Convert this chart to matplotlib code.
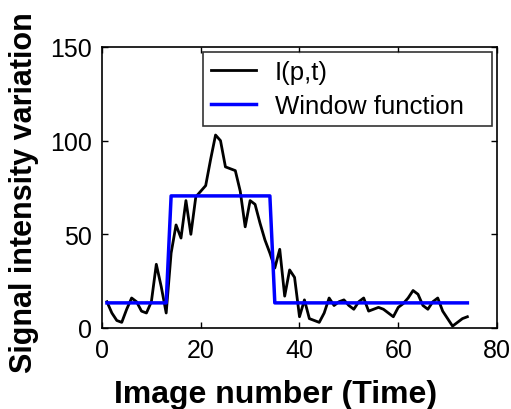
import numpy as np
import matplotlib
matplotlib.use("Agg")
import matplotlib.pyplot as plt

plt.rcParams['font.family'] = ['Liberation Sans', 'DejaVu Sans']

# image index (time)
t = np.arange(1, 75)

# measured signal I(p,t)
signal = [14, 8, 4, 3, 10, 16, 14, 9, 8, 14,
          34, 22, 8, 40, 55, 48, 68, 50, 70, 73,
          76, 90, 103, 100, 86, 85, 84, 73, 54, 68,
          66, 56, 47, 40, 32, 42, 17, 31, 27, 6,
          15, 5, 4, 3, 8, 16, 12, 14, 15, 12,
          10, 14, 16, 9, 10, 11, 10, 8, 6, 11,
          13, 16, 20, 18, 12, 10, 14, 16, 9, 5,
          1, 3, 5, 6]

# window function levels
low_level = 13.4
high_level = 70.5
win_start = 14
win_end = 34
window = [high_level if win_start <= ti <= win_end else low_level for ti in t]

fig = plt.figure(figsize=(5.11, 4.10), dpi=100)
ax = fig.add_axes([0.1996, 0.1976, 0.7730, 0.6854])

ax.plot(t, signal, color='black', lw=2.0, label='I(p,t)')
ax.plot(t, window, color='#0000ff', lw=2.5, label='Window function')

ax.set_xlim(0, 80)
ax.set_ylim(0, 150)
ax.set_xticks([0, 20, 40, 60, 80])
ax.set_yticks([0, 50, 100, 150])
ax.tick_params(direction='in', top=True, right=True, labelsize=18,
               length=4, width=1, pad=7)
for sp in ax.spines.values():
    sp.set_linewidth(1.2)

ax.set_xlabel('Image number (Time)', fontsize=23, fontweight='bold')
ax.xaxis.set_label_coords(0.44, -0.18)
ax.set_ylabel('Signal intensity variation', fontsize=22, fontweight='bold')
ax.yaxis.set_label_coords(-0.16, 0.485)

leg = ax.legend(loc='upper right', bbox_to_anchor=(0.256, 0.5, 0.731, 0.482),
                mode='expand', fontsize=18.5, frameon=True, fancybox=False,
                edgecolor='black', borderaxespad=0, handlelength=1.75,
                borderpad=0.3, labelspacing=0.4, handletextpad=0.75)
leg.get_frame().set_linewidth(1.2)

fig.savefig('out.png', dpi=100)
